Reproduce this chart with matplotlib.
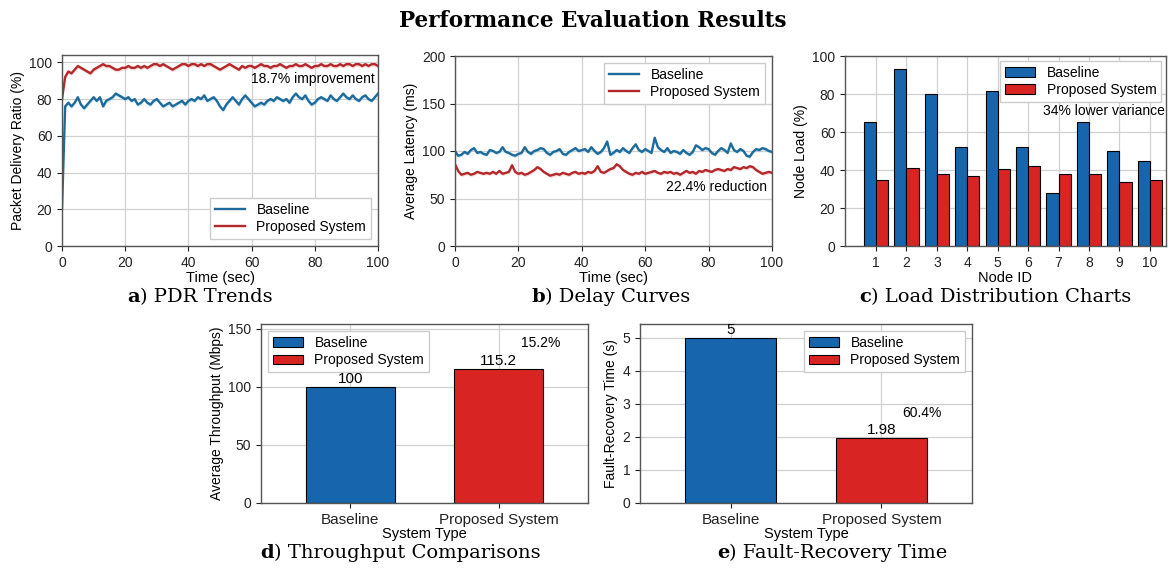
import matplotlib
matplotlib.use("Agg")
import matplotlib.pyplot as plt
import numpy as np

plt.rcParams['font.family'] = ['Liberation Sans', 'DejaVu Sans']
plt.rcParams['font.size'] = 10

# ---------------- data ----------------
time_sec = list(range(0, 101))

pdr_baseline = [20, 76, 78, 76, 78, 81, 77, 75, 77, 79, 81, 79, 81, 76, 79, 80, 81, 83, 82, 81,
                80, 81, 79, 80, 77, 78, 80, 78, 77, 79, 80, 78, 76, 77, 78, 76, 77, 78, 79, 77,
                79, 80, 79, 81, 80, 82, 79, 80, 81, 79, 76, 74, 77, 79, 81, 79, 77, 80, 82, 80,
                78, 76, 77, 78, 77, 79, 80, 79, 81, 80, 79, 80, 78, 81, 83, 81, 80, 82, 79, 77,
                78, 80, 81, 80, 79, 82, 80, 79, 81, 83, 81, 80, 82, 80, 79, 81, 82, 80, 79, 81, 83]
pdr_proposed = [80, 92, 95, 94, 96, 98, 97, 96, 95, 94, 96, 97, 98, 99, 98, 98, 97, 96, 96, 97,
                97, 98, 97, 97, 98, 97, 98, 97, 98, 99, 99, 98, 99, 98, 97, 96, 97, 98, 99, 99,
                98, 99, 99, 98, 99, 98, 99, 99, 98, 97, 96, 97, 98, 99, 98, 97, 96, 98, 97, 98,
                98, 97, 98, 99, 98, 98, 97, 98, 98, 99, 98, 97, 98, 98, 99, 98, 98, 99, 98, 97,
                98, 98, 99, 98, 98, 99, 98, 98, 99, 98, 99, 99, 98, 99, 99, 98, 99, 98, 99, 99, 98]

delay_baseline = [100, 95, 96, 99, 97, 101, 103, 98, 99, 97, 96, 101, 100, 98, 99, 104, 99, 98, 96, 95,
                  97, 98, 104, 99, 97, 100, 101, 103, 102, 98, 96, 99, 100, 102, 97, 96, 99, 101, 103, 100,
                  101, 102, 99, 104, 100, 97, 99, 103, 110, 96, 98, 101, 99, 103, 100, 98, 103, 107, 101, 99,
                  102, 100, 98, 114, 104, 101, 99, 103, 98, 100, 99, 97, 101, 98, 96, 99, 106, 104, 101, 103,
                  102, 98, 96, 100, 103, 101, 98, 108, 101, 99, 102, 100, 95, 94, 99, 102, 101, 103, 102, 100, 99]
delay_proposed = [86, 79, 75, 76, 77, 75, 76, 78, 77, 76, 77, 76, 78, 76, 79, 76, 77, 78, 85, 78,
                  76, 77, 75, 76, 78, 80, 83, 81, 78, 76, 74, 75, 76, 75, 77, 76, 75, 77, 78, 76,
                  77, 76, 78, 77, 79, 84, 78, 77, 79, 81, 82, 86, 84, 80, 78, 76, 75, 77, 76, 78,
                  76, 77, 78, 79, 77, 76, 78, 77, 78, 76, 77, 75, 77, 79, 77, 78, 76, 79, 78, 80,
                  79, 78, 80, 81, 80, 79, 81, 80, 83, 82, 81, 83, 82, 84, 83, 80, 78, 76, 77, 78, 77]

node_ids = [1, 2, 3, 4, 5, 6, 7, 8, 9, 10]
load_baseline = [65, 93, 80, 52, 81.5, 52, 28, 65, 50, 44.5]
load_proposed = [34.5, 41, 38, 37, 40.5, 42, 38, 38, 33.5, 34.5]

systems = ['Baseline', 'Proposed System']
throughput = [100, 115.2]
throughput_labels = ['100', '115.2']
recovery = [5, 1.98]
recovery_labels = ['5', '1.98']

# ---------------- style ----------------
LINE_BLUE = '#1d6a9b'
LINE_RED = '#b3282b'
BAR_BLUE = '#1766ad'
BAR_RED = '#d92424'
GRID = '#d0d0d0'

W, H = 1169, 569
fig = plt.figure(figsize=(W / 100, H / 100), dpi=100)


def ax_px(x0, y0, x1, y1):
    return fig.add_axes([x0 / W, 1 - y1 / H, (x1 - x0) / W, (y1 - y0) / H])


def style(ax):
    ax.grid(True, color=GRID, linewidth=0.9)
    ax.set_axisbelow(True)
    for s in ax.spines.values():
        s.set_color('#555555')
        s.set_linewidth(1.0)
    ax.tick_params(colors='#222222', labelsize=10, length=3.5)


LEG = dict(fontsize=10, frameon=True, fancybox=False, edgecolor='#cccccc', framealpha=1.0,
           labelspacing=0.25, borderpad=0.35, handlelength=2.2)

# ---- a) PDR ----
ax = ax_px(62, 55, 378, 246)
style(ax)
t = np.array(time_sec)
b = np.array(pdr_baseline, dtype=float)
p = np.array(pdr_proposed, dtype=float)
ax.fill_between(t, b - 1.2, b + 1.2, color='#7fc6e8', alpha=0.35, linewidth=0)
ax.fill_between(t, p - 1.2, p + 1.2, color='#f2a0a0', alpha=0.35, linewidth=0)
ax.plot(t, b, color=LINE_BLUE, lw=1.7, label='Baseline')
ax.plot(t, p, color=LINE_RED, lw=1.7, label='Proposed System')
ax.set_xlim(0, 100)
ax.set_ylim(0, 104)
ax.set_yticks([0, 20, 40, 60, 80, 100])
ax.set_xlabel('Time (sec)', labelpad=1, fontsize=10.5)
ax.set_ylabel('Packet Delivery Ratio (%)', labelpad=3)
ax.text(99, 91, '18.7% improvement', ha='right', va='center', fontsize=10)
ax.legend(loc='lower right', **LEG)

# ---- b) Delay ----
ax = ax_px(455, 56, 772, 246)
style(ax)
b = np.array(delay_baseline, dtype=float)
p = np.array(delay_proposed, dtype=float)
ax.fill_between(t, b - 2, b + 2, color='#7fc6e8', alpha=0.35, linewidth=0)
ax.fill_between(t, p - 2, p + 2, color='#f2a0a0', alpha=0.35, linewidth=0)
ax.plot(t, b, color=LINE_BLUE, lw=1.7, label='Baseline')
ax.plot(t, p, color=LINE_RED, lw=1.7, label='Proposed System')
ax.set_xlim(0, 100)
ax.set_ylim(0, 200)
ax.set_xlabel('Time (sec)', labelpad=1, fontsize=10.5)
ax.set_ylabel('Average Latency (ms)', labelpad=3)
ax.text(98.5, 62, '22.4% reduction', ha='right', va='center', fontsize=10)
ax.legend(loc='upper right', **LEG)

# ---- c) Load ----
ax = ax_px(845, 56, 1166, 246)
style(ax)
x = np.array(node_ids, dtype=float)
ax.bar(x - 0.2, load_baseline, 0.4, color=BAR_BLUE, edgecolor='black', linewidth=0.8, label='Baseline')
ax.bar(x + 0.2, load_proposed, 0.4, color=BAR_RED, edgecolor='black', linewidth=0.8, label='Proposed System')
ax.set_xlim(-0.02, 10.53)
ax.set_ylim(0, 100)
ax.set_xticks(node_ids)
ax.set_xlabel('Node ID', labelpad=1, fontsize=10.5)
ax.set_ylabel('Node Load (%)', labelpad=3)
ax.text(10.5, 71, '34% lower variance', ha='right', va='center', fontsize=10)
ax.legend(loc='upper right', borderaxespad=0.35, **LEG)

# ---- d) Throughput ----
ax = ax_px(261, 324, 588, 503)
style(ax)
ax.bar([0], throughput[0], 0.6, color=BAR_BLUE, edgecolor='black', linewidth=0.8, label='Baseline')
ax.bar([1], throughput[1], 0.6, color=BAR_RED, edgecolor='black', linewidth=0.8, label='Proposed System')
for i, (v, s) in enumerate(zip(throughput, throughput_labels)):
    ax.text(i, v + 1.0, s, ha='center', va='bottom', fontsize=11, zorder=6)
ax.set_xlim(-0.6, 1.6)
ax.set_ylim(0, 154)
ax.set_xticks([0, 1])
ax.set_xticklabels(systems, fontsize=11)
ax.set_yticks([0, 50, 100, 150])
ax.set_xlabel('System Type', labelpad=0, fontsize=10.5)
ax.set_ylabel('Average Throughput (Mbps)', labelpad=3)
ax.text(1.28, 138, '15.2%', ha='center', va='center', fontsize=10)
ax.legend(loc='upper left', **LEG)

# ---- e) Recovery ----
ax = ax_px(640, 324, 972, 503)
style(ax)
ax.bar([0], recovery[0], 0.6, color=BAR_BLUE, edgecolor='black', linewidth=0.8, label='Baseline')
ax.bar([1], recovery[1], 0.6, color=BAR_RED, edgecolor='black', linewidth=0.8, label='Proposed System')
for i, (v, s) in enumerate(zip(recovery, recovery_labels)):
    ax.text(i, v + 0.03, s, ha='center', va='bottom', fontsize=11, zorder=6)
ax.set_xlim(-0.6, 1.6)
ax.set_ylim(0, 5.42)
ax.set_xticks([0, 1])
ax.set_xticklabels(systems, fontsize=11)
ax.set_yticks([0, 1, 2, 3, 4, 5])
ax.set_xlabel('System Type', labelpad=0, fontsize=10.5)
ax.set_ylabel('Fault-Recovery Time (s)', labelpad=3)
ax.text(1.27, 2.73, '60.4%', ha='center', va='center', fontsize=10)
ax.legend(loc='upper right', **LEG)

# ---- titles ----
fig.text(593 / W, 1 - 21 / H, 'Performance Evaluation Results', ha='center', va='center',
         family='DejaVu Serif', fontweight='bold', fontsize=15.5)

renderer = fig.canvas.get_renderer()


def subtitle(xc, yc, bold, rest, size=14):
    t1 = fig.text(0, 1 - yc / H, bold, ha='left', va='center', family='DejaVu Serif',
                  fontweight='bold', fontsize=size)
    t2 = fig.text(0, 1 - yc / H, rest, ha='left', va='center', family='DejaVu Serif',
                  fontsize=size)
    w1 = t1.get_window_extent(renderer).width
    w2 = t2.get_window_extent(renderer).width
    x0 = xc - (w1 + w2) / 2
    t1.set_x(x0 / W)
    t2.set_x((x0 + w1) / W)


subtitle(200, 297, 'a', ') PDR Trends')
subtitle(611, 297, 'b', ') Delay Curves')
subtitle(995, 297, 'c', ') Load Distribution Charts')
subtitle(400, 553, 'd', ') Throughput Comparisons')
subtitle(832, 553, 'e', ') Fault-Recovery Time')

fig.savefig('out.png', dpi=100)
